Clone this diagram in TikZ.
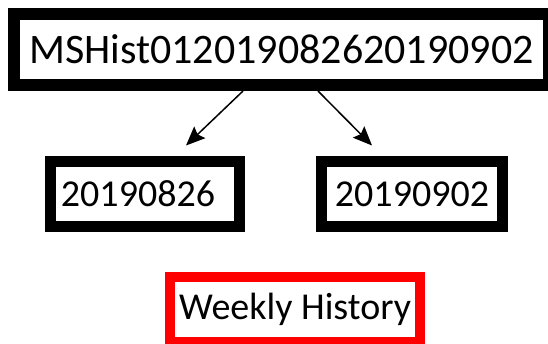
\documentclass[tikz,border=0pt]{standalone}
\usepackage{fontspec}
\setmainfont{Carlito}
\usetikzlibrary{arrows.meta}
\begin{document}
\begin{tikzpicture}[x=1pt,y=-1pt,
  box/.style={draw=black, line width=12pt, rectangle, inner sep=0pt,
    font=\fontsize{38}{40}\selectfont},
  datebox/.style={box, line width=11pt, minimum width=#1, minimum height=65pt},
  redbox/.style={box, draw=red, line width=10pt, minimum width=250pt, minimum height=65pt},
  link/.style={line width=1.5pt, -{Stealth[length=19pt,width=16pt,inset=3pt]}}]

  \useasboundingbox (0,0) rectangle (548,343);

  % File name box
  \node[box, minimum width=535pt, minimum height=71pt,
    font=\fontsize{42}{44}\selectfont] (file) at (281.5,49.5)
    {MSHist012019082620190902};

  % Date boxes
  \node[datebox=189pt] (start) at (145,194) {\hspace*{-14pt}20190826};
  \node[datebox=181pt] (end) at (412,194) {20190902};

  % Arrows from file name to dates
  \draw[link] ([xshift=-38.5pt]file.south) -- ([xshift=41pt,yshift=10.5pt]start.north);
  \draw[link] ([xshift=36.5pt]file.south) -- ([xshift=-40pt,yshift=10.5pt]end.north);

  % Legend
  \node[redbox] (legend) at (295,309.5) {Weekly History};
\end{tikzpicture}
\end{document}
